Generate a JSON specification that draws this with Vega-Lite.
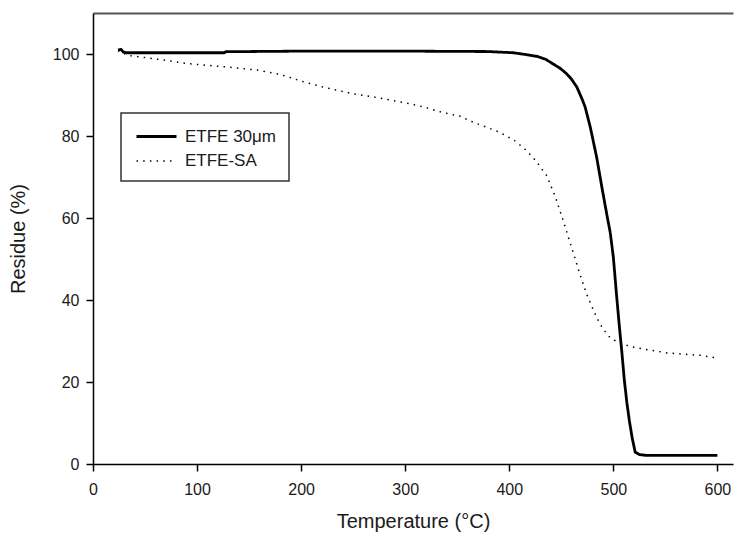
{
  "$schema": "https://vega.github.io/schema/vega-lite/v6.json",
  "width": 640,
  "height": 451,
  "autosize": {"type": "none"},
  "padding": {"left": 93, "top": 13, "right": 1, "bottom": 78},
  "background": "white",
  "config": {
    "view": {"stroke": null},
    "font": "Liberation Sans",
    "axis": {
      "grid": false,
      "domainColor": "#000",
      "domainWidth": 1.5,
      "tickColor": "#000",
      "tickWidth": 1.5,
      "tickSize": 7,
      "labelFont": "Liberation Sans",
      "labelFontSize": 16,
      "labelColor": "#1a1a1a",
      "titleFont": "Liberation Sans",
      "titleFontSize": 20,
      "titleFontWeight": "normal",
      "titleColor": "#1a1a1a"
    },
    "legend": {
      "orient": "none",
      "legendX": 28,
      "legendY": 100,
      "strokeColor": "#333",
      "strokeWidth": 1.5,
      "padding": 12,
      "symbolType": "M-2,0H2",
      "symbolSize": 400,
      "symbolOffset": 12,
      "symbolStrokeColor": "#000",
      "labelFont": "Liberation Sans",
      "labelFontSize": 17,
      "labelColor": "#1a1a1a",
      "labelOffset": 17,
      "rowPadding": 5,
      "title": null
    }
  },
  "data": {
    "values": [
      {"T": 24, "R": 101.0, "series": "ETFE 30μm"},
      {"T": 27, "R": 101.1, "series": "ETFE 30μm"},
      {"T": 29, "R": 100.5, "series": "ETFE 30μm"},
      {"T": 32, "R": 100.3, "series": "ETFE 30μm"},
      {"T": 60, "R": 100.3, "series": "ETFE 30μm"},
      {"T": 100, "R": 100.3, "series": "ETFE 30μm"},
      {"T": 126, "R": 100.3, "series": "ETFE 30μm"},
      {"T": 128, "R": 100.6, "series": "ETFE 30μm"},
      {"T": 150, "R": 100.6, "series": "ETFE 30μm"},
      {"T": 200, "R": 100.7, "series": "ETFE 30μm"},
      {"T": 300, "R": 100.7, "series": "ETFE 30μm"},
      {"T": 380, "R": 100.6, "series": "ETFE 30μm"},
      {"T": 404, "R": 100.3, "series": "ETFE 30μm"},
      {"T": 415, "R": 99.9, "series": "ETFE 30μm"},
      {"T": 427, "R": 99.4, "series": "ETFE 30μm"},
      {"T": 435, "R": 98.7, "series": "ETFE 30μm"},
      {"T": 442, "R": 97.6, "series": "ETFE 30μm"},
      {"T": 449, "R": 96.5, "series": "ETFE 30μm"},
      {"T": 455, "R": 95.2, "series": "ETFE 30μm"},
      {"T": 460, "R": 93.8, "series": "ETFE 30μm"},
      {"T": 465, "R": 91.9, "series": "ETFE 30μm"},
      {"T": 470, "R": 89.0, "series": "ETFE 30μm"},
      {"T": 473, "R": 87.0, "series": "ETFE 30μm"},
      {"T": 478, "R": 82.0, "series": "ETFE 30μm"},
      {"T": 484, "R": 74.8, "series": "ETFE 30μm"},
      {"T": 489, "R": 67.5, "series": "ETFE 30μm"},
      {"T": 494, "R": 60.5, "series": "ETFE 30μm"},
      {"T": 497, "R": 56.5, "series": "ETFE 30μm"},
      {"T": 500, "R": 50.5, "series": "ETFE 30μm"},
      {"T": 503, "R": 41.5, "series": "ETFE 30μm"},
      {"T": 506, "R": 33.0, "series": "ETFE 30μm"},
      {"T": 508.3, "R": 27.0, "series": "ETFE 30μm"},
      {"T": 510.6, "R": 20.4, "series": "ETFE 30μm"},
      {"T": 513, "R": 15.0, "series": "ETFE 30μm"},
      {"T": 515.4, "R": 10.6, "series": "ETFE 30μm"},
      {"T": 518, "R": 6.5, "series": "ETFE 30μm"},
      {"T": 521, "R": 2.9, "series": "ETFE 30μm"},
      {"T": 525, "R": 2.3, "series": "ETFE 30μm"},
      {"T": 532, "R": 2.1, "series": "ETFE 30μm"},
      {"T": 600, "R": 2.1, "series": "ETFE 30μm"},
      {"T": 24, "R": 100.8, "series": "ETFE-SA"},
      {"T": 28, "R": 100.3, "series": "ETFE-SA"},
      {"T": 35.6, "R": 99.6, "series": "ETFE-SA"},
      {"T": 60, "R": 98.8, "series": "ETFE-SA"},
      {"T": 93, "R": 97.6, "series": "ETFE-SA"},
      {"T": 130, "R": 96.8, "series": "ETFE-SA"},
      {"T": 160, "R": 96.0, "series": "ETFE-SA"},
      {"T": 180, "R": 95.0, "series": "ETFE-SA"},
      {"T": 200, "R": 93.4, "series": "ETFE-SA"},
      {"T": 220, "R": 92.0, "series": "ETFE-SA"},
      {"T": 250, "R": 90.3, "series": "ETFE-SA"},
      {"T": 270, "R": 89.5, "series": "ETFE-SA"},
      {"T": 300, "R": 88.1, "series": "ETFE-SA"},
      {"T": 316, "R": 87.2, "series": "ETFE-SA"},
      {"T": 335, "R": 85.8, "series": "ETFE-SA"},
      {"T": 353, "R": 84.8, "series": "ETFE-SA"},
      {"T": 365, "R": 83.4, "series": "ETFE-SA"},
      {"T": 391, "R": 80.9, "series": "ETFE-SA"},
      {"T": 405, "R": 78.9, "series": "ETFE-SA"},
      {"T": 416.5, "R": 76.5, "series": "ETFE-SA"},
      {"T": 426, "R": 73.8, "series": "ETFE-SA"},
      {"T": 435.8, "R": 70.4, "series": "ETFE-SA"},
      {"T": 443.8, "R": 65.5, "series": "ETFE-SA"},
      {"T": 451.8, "R": 59.4, "series": "ETFE-SA"},
      {"T": 459.8, "R": 52.9, "series": "ETFE-SA"},
      {"T": 467.8, "R": 46.4, "series": "ETFE-SA"},
      {"T": 474.2, "R": 41.5, "series": "ETFE-SA"},
      {"T": 483.8, "R": 35.8, "series": "ETFE-SA"},
      {"T": 490, "R": 33.0, "series": "ETFE-SA"},
      {"T": 496.6, "R": 30.9, "series": "ETFE-SA"},
      {"T": 505, "R": 29.6, "series": "ETFE-SA"},
      {"T": 516, "R": 28.7, "series": "ETFE-SA"},
      {"T": 522.8, "R": 28.3, "series": "ETFE-SA"},
      {"T": 551.6, "R": 27.1, "series": "ETFE-SA"},
      {"T": 583.7, "R": 26.5, "series": "ETFE-SA"},
      {"T": 596.4, "R": 26.0, "series": "ETFE-SA"},
      {"T": 600, "R": 26.0, "series": "ETFE-SA"}
    ]
  },
  "layer": [
    {
      "mark": {"type": "line", "color": "#000", "strokeCap": "butt"},
      "encoding": {
        "x": {
          "field": "T", "type": "quantitative",
          "scale": {"domain": [0, 615], "nice": false, "zero": false},
          "axis": {"values": [0, 100, 200, 300, 400, 500, 600], "title": "Temperature (°C)", "labelPadding": 10, "titlePadding": 14, "labelFlush": false}
        },
        "y": {
          "field": "R", "type": "quantitative",
          "scale": {"domain": [0, 110], "nice": false},
          "axis": {"values": [0, 20, 40, 60, 80, 100], "title": "Residue (%)", "labelPadding": 7, "titlePadding": 24, "labelFlush": false}
        },
        "strokeDash": {
          "field": "series", "type": "nominal",
          "scale": {"domain": ["ETFE 30μm", "ETFE-SA"], "range": [[1, 0], [1.5, 5.2]]}
        },
        "strokeWidth": {
          "field": "series", "type": "nominal",
          "scale": {"domain": ["ETFE 30μm", "ETFE-SA"], "range": [2.8, 1.5]}
        }
      }
    },
    {
      "mark": {"type": "line", "strokeOpacity": 0},
      "encoding": {
        "x": {
          "field": "T", "type": "quantitative",
          "scale": {"domain": [0, 615], "nice": false, "zero": false},
          "axis": {"orient": "top", "labels": false, "ticks": false, "title": null, "domainColor": "#555", "domainWidth": 2}
        },
        "y": {"field": "R", "type": "quantitative", "axis": null}
      }
    }
  ],
  "resolve": {"axis": {"x": "independent", "y": "independent"}}
}
